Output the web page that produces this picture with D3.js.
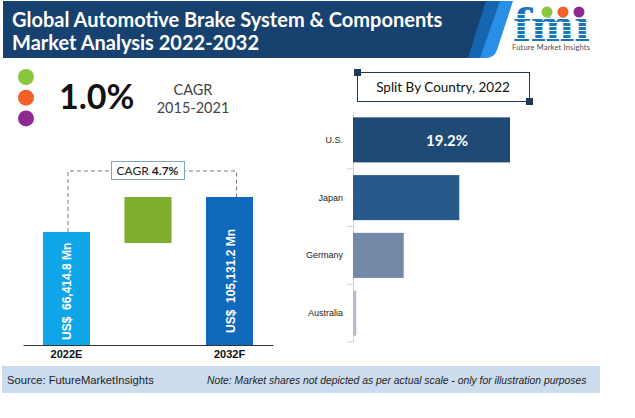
<!DOCTYPE html>
<html>
<head>
<meta charset="utf-8">
<script src="https://cdn.jsdelivr.net/npm/d3@7"></script>
<style>
  html, body { margin: 0; padding: 0; background: #fff; }
  svg { display: block; }
  text { font-family: Lato, sans-serif; }
</style>
</head>
<body>
<svg class="chart" width="635" height="418"></svg>
<script>
// market size bars (bars are not to scale in the original, see the note)
const years = ["2022E", "Growth", "2032F"];
const yearLabels = ["2022E", "", "2032F"];
const marketValues = [66414.8, 105131.2];
const marketText = ["US$  66,414.8 Mn", "US$  105,131.2 Mn"];
const growthRange = [54200, 105131.2];

// country split, only the U.S. share is printed
const countries = ["U.S.", "Japan", "Germany", "Australia"];
const countryShares = [19.2, 13.0, 6.2, 0.4];
const countryColors = ["#1e4a75", "#27598a", "#7488a8", "#b5bdc9"];

const dots = ["#8cc63f", "#f4602a", "#8e2a8f"];

const svg = d3.select("svg.chart");

// header banner
svg.append("path").attr("d", "M3,1H513L497,50Q494,58 486,58H470Z").attr("fill", "#2a8fe6");
svg.append("path").attr("d", "M3,1H500L480,58H3Z").attr("fill", "#1565b0");
svg.append("path").attr("d", "M3,1H486L468,58H3Z").attr("fill", "#17426f");

svg.selectAll(".title")
  .data(["Global Automotive Brake System & Components", "Market Analysis 2022-2032"])
  .enter().append("text")
    .attr("class", "title")
    .attr("x", 12)
    .attr("y", (d, i) => 27 + i * 23)
    .attr("fill", "#fff")
    .attr("font-weight", 700)
    .attr("font-size", 20)
    .text(d => d);

// logo
const logo = svg.append("g");
logo.append("text")
  .attr("x", 513).attr("y", 41)
  .attr("font-size", 44)
  .attr("font-weight", 700)
  .attr("textLength", 77)
  .attr("lengthAdjust", "spacingAndGlyphs")
  .style("font-family", "'DejaVu Serif', serif")
  .attr("fill", "#1b75bb")
  .text("fmi");
d3.range(14, 42, 4).forEach(y => {
  logo.append("rect").attr("x", 510).attr("y", y).attr("width", 84).attr("height", 1).attr("fill", "#fff");
});
logo.append("rect").attr("x", 574).attr("y", 4).attr("width", 18).attr("height", 13).attr("fill", "#fff");
dots.forEach((c, i) => {
  logo.append("circle").attr("cx", 547 + i * 16).attr("cy", 12).attr("r", 5.5).attr("fill", c);
});
logo.append("text")
  .attr("x", 512).attr("y", 50)
  .attr("font-size", 7.5)
  .attr("fill", "#4d4d4d")
  .attr("textLength", 78)
  .text("Future Market Insights");

// CAGR block
svg.selectAll(".dot")
  .data(dots)
  .enter().append("circle")
    .attr("class", "dot")
    .attr("cx", 26)
    .attr("cy", (d, i) => 77 + i * 20.7)
    .attr("r", 8)
    .attr("fill", d => d);

svg.append("text")
  .attr("x", 59).attr("y", 109)
  .attr("font-size", 34)
  .attr("font-weight", 700)
  .attr("fill", "#111")
  .text("1.0%");
svg.append("text")
  .attr("x", 193).attr("y", 95)
  .attr("text-anchor", "middle")
  .attr("font-size", 14.5)
  .attr("fill", "#444")
  .text("CAGR");
svg.append("text")
  .attr("x", 193).attr("y", 113)
  .attr("text-anchor", "middle")
  .attr("font-size", 14.5)
  .attr("fill", "#444")
  .text("2015-2021");

// left chart
const xYear = d3.scaleBand()
  .domain(years)
  .range([23, 273])
  .paddingInner(0.423)
  .paddingOuter(0.245);
const yMarket = d3.scaleLinear()
  .domain([-58600, 105131.2])
  .range([345, 197]);

const xAxis = svg.append("g")
  .attr("transform", "translate(0,345)")
  .call(d3.axisBottom(xYear)
    .tickSize(0)
    .tickPadding(5)
    .tickFormat((d, i) => yearLabels[i]));
xAxis.select(".domain").attr("stroke", "#333");
xAxis.selectAll("text")
  .attr("fill", "#111")
  .attr("font-size", 11)
  .attr("font-weight", 700)
  .style("font-family", "'Liberation Sans', sans-serif");

const marketBars = [
  {year: years[0], value: marketValues[0], color: "#0fa5e9", text: marketText[0]},
  {year: years[2], value: marketValues[1], color: "#0f69bd", text: marketText[1]}
];

svg.selectAll(".bar")
  .data(marketBars)
  .enter().append("rect")
    .attr("class", "bar")
    .attr("x", d => xYear(d.year))
    .attr("y", d => yMarket(d.value))
    .attr("width", xYear.bandwidth())
    .attr("height", d => 345 - yMarket(d.value))
    .attr("fill", d => d.color);

svg.append("rect")
  .attr("x", xYear(years[1]))
  .attr("y", yMarket(growthRange[1]))
  .attr("width", xYear.bandwidth())
  .attr("height", yMarket(growthRange[0]) - yMarket(growthRange[1]))
  .attr("fill", "#7fae2f");

svg.selectAll(".bar-label")
  .data(marketBars)
  .enter().append("text")
    .attr("class", "bar-label")
    .attr("transform", (d, i) => `translate(${xYear(d.year) + xYear.bandwidth() / 2 + 5},${i ? 333 : 340}) rotate(-90)`)
    .attr("fill", "#fff")
    .attr("font-size", 12)
    .attr("font-weight", 700)
    .style("font-family", "'Liberation Sans', sans-serif")
    .style("white-space", "pre")
    .text(d => d.text);

// dashed bracket and its CAGR box
const bracketLine = d3.line();
const x0 = xYear(years[0]) + xYear.bandwidth() / 2 + 1.5;
const x1 = xYear(years[2]) + xYear.bandwidth() / 2 + 7;
svg.append("path")
  .attr("d", bracketLine([[x0, yMarket(marketValues[0])], [x0, 171], [x1, 171], [x1, yMarket(marketValues[1])]]))
  .attr("fill", "none")
  .attr("stroke", "#777")
  .attr("stroke-dasharray", "4,3");
svg.append("rect")
  .attr("x", 111.5).attr("y", 161.5)
  .attr("width", 73).attr("height", 18)
  .attr("fill", "#fff")
  .attr("stroke", "#7fa3c4");
const cagrText = svg.append("text")
  .attr("x", 147.5).attr("y", 175)
  .attr("text-anchor", "middle")
  .attr("font-size", 12)
  .attr("fill", "#222");
cagrText.append("tspan").text("CAGR ");
cagrText.append("tspan").attr("font-weight", 700).text("4.7%");

// right chart
const yCountry = d3.scaleBand()
  .domain(countries)
  .range([111, 342])
  .paddingInner(0.22)
  .paddingOuter(0.11);
const xShare = d3.scaleLinear()
  .domain([0, 19.2])
  .range([353, 510]);

const yAxis = svg.append("g")
  .attr("transform", "translate(353,0)")
  .call(d3.axisLeft(yCountry).tickSize(0).tickPadding(10));
yAxis.select(".domain").attr("stroke", "#cfd3d8");
yAxis.selectAll("text")
  .attr("fill", "#222")
  .attr("font-size", 9)
  .style("font-family", "'Liberation Sans', sans-serif");

// tick marks sit between the categories
svg.selectAll(".sep")
  .data(countries)
  .enter().append("line")
    .attr("class", "sep")
    .attr("x1", 347).attr("x2", 353)
    .attr("y1", d => yCountry(d) + yCountry.bandwidth() + yCountry.step() * 0.11)
    .attr("y2", d => yCountry(d) + yCountry.bandwidth() + yCountry.step() * 0.11)
    .attr("stroke", "#cfd3d8");

svg.selectAll(".country")
  .data(countries)
  .enter().append("rect")
    .attr("class", "country")
    .attr("x", xShare(0))
    .attr("y", d => yCountry(d))
    .attr("width", (d, i) => xShare(countryShares[i]) - xShare(0))
    .attr("height", yCountry.bandwidth())
    .attr("fill", (d, i) => countryColors[i]);

svg.append("text")
  .attr("x", 447).attr("y", yCountry(countries[0]) + yCountry.bandwidth() / 2 + 6)
  .attr("text-anchor", "middle")
  .attr("fill", "#fff")
  .attr("font-size", 15)
  .attr("font-weight", 700)
  .text(countryShares[0].toFixed(1) + "%");

// split title box
svg.append("rect")
  .attr("x", 357.5).attr("y", 72.5)
  .attr("width", 172).attr("height", 29)
  .attr("fill", "#fff")
  .attr("stroke", "#1e3a55");
svg.selectAll(".corner")
  .data([[354, 69], [526, 98]])
  .enter().append("rect")
    .attr("class", "corner")
    .attr("x", d => d[0]).attr("y", d => d[1])
    .attr("width", 7).attr("height", 7)
    .attr("fill", "#1e3a55");
svg.append("text")
  .attr("x", 443).attr("y", 92)
  .attr("text-anchor", "middle")
  .attr("font-size", 13.5)
  .attr("fill", "#111")
  .text("Split By Country, 2022");

// footer
svg.append("rect")
  .attr("x", 2).attr("y", 366)
  .attr("width", 598).attr("height", 27)
  .attr("fill", "#ccdcef");
svg.append("text")
  .attr("x", 7).attr("y", 384)
  .attr("font-size", 11.2)
  .attr("fill", "#222")
  .style("font-family", "'Liberation Sans', sans-serif")
  .text("Source: FutureMarketInsights");
svg.append("text")
  .attr("x", 207).attr("y", 384)
  .attr("font-size", 10.35)
  .attr("font-style", "italic")
  .attr("fill", "#222")
  .style("font-family", "'Liberation Sans', sans-serif")
  .text("Note: Market shares not depicted as per actual scale - only for illustration purposes");
</script>
</body>
</html>
